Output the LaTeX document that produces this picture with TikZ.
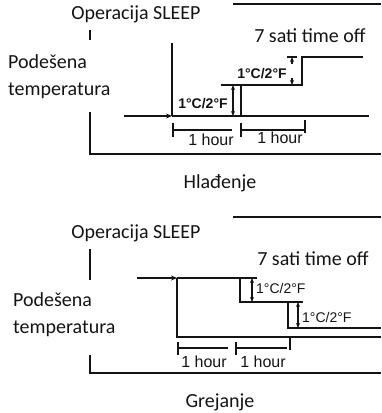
\documentclass[tikz,border=0pt]{standalone}
\usepackage{fontspec}
\usepackage{tikz}
\usetikzlibrary{arrows.meta}
\newfontfamily\carlito{Carlito}
\newfontfamily\arialfont{Liberation Sans}
\definecolor{inkdark}{RGB}{20,20,20}
\tikzset{
  lbl/.style={font=\carlito\fontsize{20}{22}\selectfont, inner sep=0pt, color=inkdark},
  hourlbl/.style={font=\arialfont\fontsize{16}{18}\selectfont, inner sep=0pt, color=inkdark},
  steplbl/.style={font=\arialfont\bfseries\fontsize{14}{16}\selectfont, inner sep=0pt, color=inkdark},
  steplblthin/.style={font=\arialfont\fontsize{14}{16}\selectfont, inner sep=0pt, color=inkdark},
  axis/.style={line width=2pt, color=inkdark},
  dim/.style={line width=1.4pt, color=inkdark},
  dimarrow/.style={line width=1.3pt, color=inkdark, {Stealth[length=5pt,width=4pt]}-{Stealth[length=5pt,width=4pt]}},
  inarrow/.style={line width=2pt, color=inkdark, -{Stealth[length=6pt,width=5pt]}}
}
\begin{document}
\begin{tikzpicture}[x=1pt,y=-1pt]
  \useasboundingbox (0,0) rectangle (381,413);
  % cooling
  \node[lbl] (op1) at (136,14) {Operacija SLEEP};
  \node[lbl] (off1) at (310,36) {7 sati time off};
  \node[lbl, anchor=west] (pod1) at (8,62) {Podešena};
  \node[lbl, anchor=west] (temp1) at (8,91) {temperatura};
  \node[lbl] (mode1) at (220,183) {Hlađenje};
  \draw[axis] (233,4) -- (381,4);
  \draw[axis] (90,30) -- (90,40);
  \draw[axis] (90,112) -- (90,154) -- (381,154);
  \draw[axis] (172,43) -- (172,116);
  \draw[inarrow] (124,116) -- (172,116);
  \draw[axis] (172,116) -- (369,116);
  \draw[axis] (241,116) -- (241,85);
  \draw[axis] (221,85) -- (302,85) -- (302,57) -- (363,57);
  \draw[dimarrow] (233,85) -- (233,116);
  \node[steplbl] (dt1) at (203,104) {1°C/2°F};
  \draw[dim] (287,57) -- (297,57);
  \draw[dim,-{Stealth[length=5pt,width=4pt]}] (292,64) -- (292,57);
  \draw[dim,-{Stealth[length=5pt,width=4pt]}] (292,78) -- (292,85);
  \node[steplbl] (dt2) at (262,74) {1°C/2°F};
  \draw[dim] (173,123) -- (173,137);
  \draw[dim] (173,130) -- (232,130);
  \draw[dim] (241,123) -- (241,137);
  \draw[dim] (241,130) -- (305,130);
  \draw[dim] (305,120) -- (305,133);
  \node[hourlbl] (h1) at (211,140) {1 hour};
  \node[hourlbl] (h2) at (280,138) {1 hour};
  % heating
  \node[lbl] (op2) at (136,233) {Operacija SLEEP};
  \node[lbl] (off2) at (313,259) {7 sati time off};
  \node[lbl, anchor=west] (pod2) at (13,300) {Podešena};
  \node[lbl, anchor=west] (temp2) at (13,329) {temperatura};
  \node[lbl] (mode2) at (220,402) {Grejanje};
  \draw[axis] (233,217) -- (381,217);
  \draw[axis] (90,249) -- (90,280);
  \draw[axis] (90,355) -- (90,373) -- (381,373);
  \draw[inarrow] (137,278) -- (177,278);
  \draw[axis] (177,278) -- (177,337) -- (381,337);
  \draw[axis] (177,278) -- (240,278) -- (240,302) -- (288,302) -- (288,328) -- (381,328);
  \draw[dim] (240,278) -- (257,278);
  \draw[dim] (288,302) -- (303,302);
  \draw[dimarrow] (252,278) -- (252,302);
  \draw[dimarrow] (298,302) -- (298,328);
  \node[steplblthin, anchor=west] (dt3) at (256,288) {1°C/2°F};
  \node[steplblthin, anchor=west] (dt4) at (302,317) {1°C/2°F};
  \draw[dim] (178,342) -- (178,355);
  \draw[dim] (178,348) -- (228,348);
  \draw[dim] (236,342) -- (236,355);
  \draw[dim] (236,348) -- (287,348);
  \draw[dim] (290,338) -- (290,350);
  \node[hourlbl] (h3) at (204,362) {1 hour};
  \node[hourlbl] (h4) at (263,362) {1 hour};
\end{tikzpicture}
\end{document}
